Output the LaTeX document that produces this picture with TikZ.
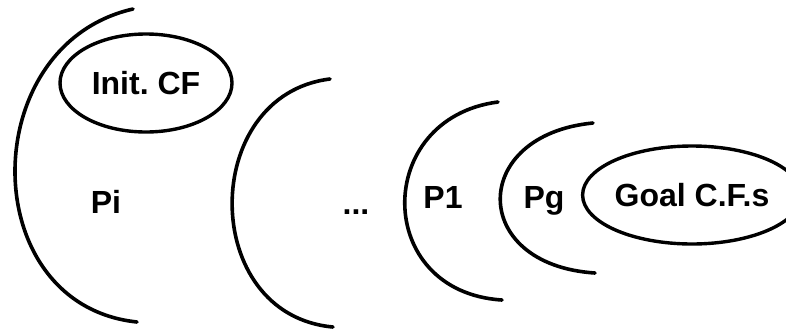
\documentclass[tikz,border=0pt]{standalone}
\usepackage{fontspec}
\setmainfont{Liberation Sans}
\usepackage{tikz}
\usetikzlibrary{shapes.geometric}

\begin{document}
\begin{tikzpicture}[x=1pt,y=-1pt,
  planarc/.style={line width=3.6pt,line cap=round},
  cfset/.style={draw,ellipse,line width=3.4pt,inner sep=0pt,font=\fontsize{32}{36}\selectfont\bfseries},
  planlabel/.style={font=\fontsize{32}{36}\selectfont\bfseries,anchor=base}]

\useasboundingbox (0,0) rectangle (786,335);

\draw[planarc] (133,9) .. controls (-25,45) and (-25,305) .. (137,322);
\draw[planarc] (330,79) .. controls (199,95) and (199,315) .. (333,327);
\draw[planarc] (498,102) .. controls (373,118) and (373,292) .. (502,300);
\draw[planarc] (593,123) .. controls (469,135) and (469,265) .. (595,273);

\node[cfset,minimum width=172,minimum height=98] (initcf) at (146,83) {Init.\ CF};
\node[cfset,minimum width=190,minimum height=98] (goalcf) at (692,195) {Goal C.F.s};

\node[planlabel] (pi) at (106,213) {Pi};
\node[planlabel] (dots) at (356,214) {...};
\node[planlabel] (pone) at (443,208) {P1};
\node[planlabel] (pg) at (544,208) {Pg};
\end{tikzpicture}
\end{document}
